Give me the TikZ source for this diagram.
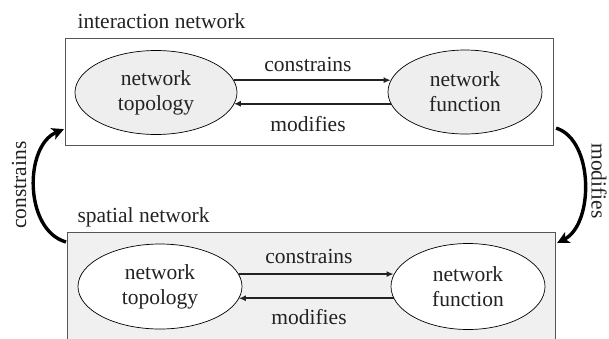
\documentclass[tikz,border=0pt]{standalone}
\usepackage{fontspec}
\setmainfont{Liberation Serif}
\usetikzlibrary{shapes.geometric,arrows.meta,calc}
\definecolor{boxgray}{HTML}{F0F0F0}
\definecolor{ellgray}{HTML}{EEEEEE}
\definecolor{edgegray}{HTML}{555555}
\definecolor{txt}{HTML}{222222}
\begin{document}
\begin{tikzpicture}[x=1pt,y=-1pt,
  every node/.style={font=\fontsize{21.5}{25}\selectfont, text=txt},
  panel/.style={draw=edgegray, line width=1.1pt, rectangle, inner sep=0pt, anchor=north west},
  blob/.style={draw=black, line width=0.7pt, ellipse, inner sep=0pt, align=center},
  link/.style={line width=1.8pt, draw=txt, -{Latex[length=7pt,width=6pt]}},
  bigarrow/.style={line width=3.4pt, draw=black, -{Stealth[length=12pt,width=12pt,inset=3pt]}}
]
\useasboundingbox (0,0) rectangle (609,338);
\clip (0,0) rectangle (609,338);
% panels
\node[panel, fill=white, minimum width=488pt, minimum height=107pt] (top) at (65,38) {};
\node[panel, fill=boxgray, minimum width=488pt, minimum height=120pt] (bot) at (67,232) {};
\node[anchor=base west] (tlab) at (74,28) {interaction network};
\node[anchor=base west] (blab) at (74,222) {spatial network};
% ellipses
\node[blob, fill=ellgray, minimum width=162pt, minimum height=84pt] (tl) at (156,92.5) {network\\topology};
\node[blob, fill=ellgray, minimum width=154pt, minimum height=84pt] (tr) at (465,92) {network\\function};
\node[blob, fill=white, minimum width=164pt, minimum height=85pt] (bl) at (160,286.5) {network\\topology};
\node[blob, fill=white, minimum width=154pt, minimum height=86pt] (br) at (468,286.5) {network\\function};
% horizontal arrows
\draw[link] (tl.9) -- (tl.9 -| tr.171);
\draw[link] (tr.-171) -- (tr.-171 -| tl.-9);
\draw[link] (bl.9) -- (bl.9 -| br.171);
\draw[link] (br.-171) -- (br.-171 -| bl.-9);
\node[anchor=base] (c1) at (308,71) {constrains};
\node[anchor=base] (m1) at (308,131) {modifies};
\node[anchor=base] (c2) at (309,263) {constrains};
\node[anchor=base] (m2) at (309,324) {modifies};
% curved arrows
\coordinate (ls) at ($(bot.north west)+(-1,10)$);
\coordinate (le) at ($(top.south west)+(-1,-17)$);
\coordinate (rs) at ($(top.south east)+(2,-18)$);
\coordinate (re) at ($(bot.north east)+(1,11)$);
\draw[bigarrow] (ls) .. controls (24,230) and (24,146) .. (le);
\draw[bigarrow] (rs) .. controls (594,140) and (594,224) .. (re);
\node[rotate=90] (lc) at (19,185) {constrains};
\node[rotate=-90] (rm) at (599,181) {modifies};
\end{tikzpicture}
\end{document}
